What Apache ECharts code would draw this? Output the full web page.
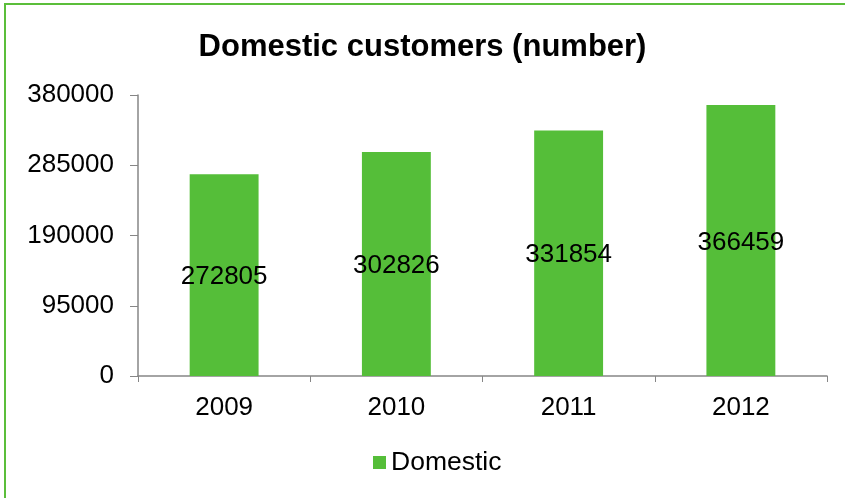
<!DOCTYPE html>
<html><head><meta charset="utf-8">
<script src="https://cdn.jsdelivr.net/npm/echarts@6/dist/echarts.min.js"></script>
<style>html,body{margin:0;padding:0;background:#fff}#c{width:845px;height:498px}</style>
</head><body><div id="c"></div>
<script>
const categories = ['2009', '2010', '2011', '2012'];
const domestic = [272805, 302826, 331854, 366459];
const yTicks = [0, 95000, 190000, 285000, 380000];
const seriesName = 'Domestic';
const titleText = 'Domestic customers (number)';

const chart = echarts.init(document.getElementById('c'), null, {renderer: 'canvas'});
const font = 'Liberation Sans, Arial, sans-serif';
const fs = 26;
chart.setOption({
  animation: false,
  backgroundColor: '#fff',
  graphic: [{type: 'rect', shape: {x: 5, y: 4, width: 900, height: 600}, style: {fill: 'none', stroke: '#5BBE3A', lineWidth: 2}, z: -1}],
  title: {text: titleText, left: 'center', top: 27, textStyle: {fontFamily: font, fontWeight: 'bold', fontSize: 31, color: '#000'}},
  grid: {left: 138, right: 18, top: 95, bottom: 122},
  legend: {data: [seriesName], bottom: 17, left: 368, itemWidth: 13, itemHeight: 13, icon: 'rect', itemGap: 6,
    textStyle: {fontFamily: font, fontSize: 26.5, color: '#000'}},
  xAxis: {type: 'category', data: categories,
    axisLine: {lineStyle: {color: '#868686', width: 1.5}},
    axisTick: {show: true, length: 6, lineStyle: {color: '#868686'}},
    axisLabel: {fontFamily: font, fontSize: fs, color: '#000', margin: 19}},
  yAxis: {type: 'value', min: yTicks[0], max: yTicks[yTicks.length - 1], interval: yTicks[1] - yTicks[0],
    splitLine: {show: false},
    axisLine: {show: true, lineStyle: {color: '#868686', width: 1.5}},
    axisTick: {show: true, length: 8, lineStyle: {color: '#868686'}},
    axisLabel: {fontFamily: font, fontSize: fs, color: '#000', margin: 24, formatter: v => String(v)}},
  series: [{name: seriesName, type: 'bar', data: domestic, barWidth: '40%',
    itemStyle: {color: '#55BE39'},
    label: {show: true, position: 'inside', offset: [0, 2], fontFamily: font, fontSize: fs, color: '#000', formatter: p => String(p.value)}}]
});
</script></body></html>
